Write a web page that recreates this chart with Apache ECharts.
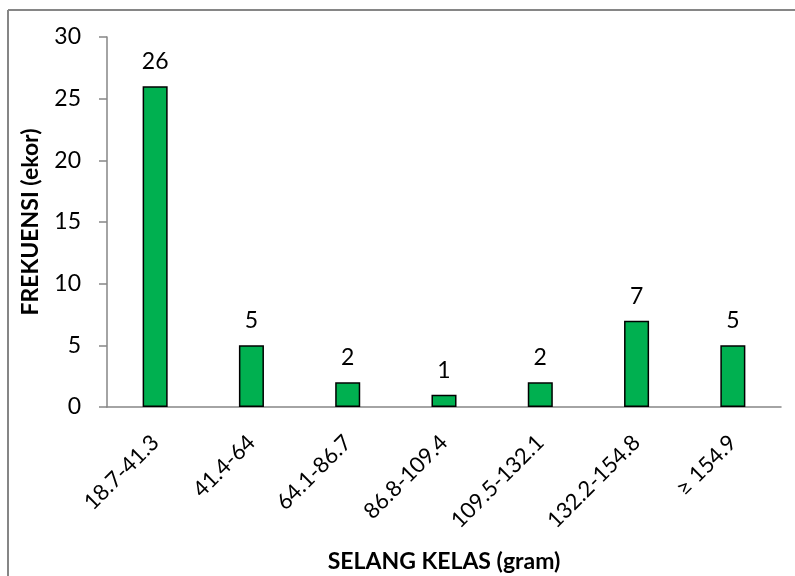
<!DOCTYPE html>
<html>
<head>
<meta charset="utf-8">
<script src="https://cdn.jsdelivr.net/npm/echarts@6/dist/echarts.min.js"></script>
<style>
html,body{margin:0;padding:0;background:#fff;}
#chart{width:795px;height:576px;}
</style>
</head>
<body>
<div id="chart"></div>
<script>
const categories = ["18.7-41.3", "41.4-64", "64.1-86.7", "86.8-109.4", "109.5-132.1", "132.2-154.8", "≥ 154.9"];
const frequencies = [26, 5, 2, 1, 2, 7, 5];
const yTicks = [0, 5, 10, 15, 20, 25, 30];
const xTitle = "SELANG KELAS (gram)";
const yTitle = "FREKUENSI (ekor)";

const FONT = "Lato";
const chart = echarts.init(document.getElementById('chart'), null, {renderer: 'canvas'});
chart.setOption({
  animation: false,
  backgroundColor: '#ffffff',
  textStyle: {fontFamily: FONT},
  graphic: [
    {type: 'line', shape: {x1: 8, y1: 10, x2: 795, y2: 10}, style: {stroke: '#868686', lineWidth: 2}},
    {type: 'line', shape: {x1: 8, y1: 10, x2: 8, y2: 576}, style: {stroke: '#868686', lineWidth: 2}}
  ],
  grid: {left: 107, right: 14, top: 37, bottom: 169, containLabel: false, outerBoundsMode: 'none'},
  xAxis: {
    type: 'category',
    data: categories,
    name: xTitle,
    nameLocation: 'middle',
    nameGap: 143,
    nameTextStyle: {fontFamily: FONT, fontSize: 23, fontWeight: 'bold', color: '#000'},
    axisLine: {lineStyle: {color: '#868686', width: 1.5}},
    axisTick: {show: false},
    axisLabel: {rotate: 45, fontFamily: FONT, fontSize: 22, color: '#000', margin: 32, interval: 0}
  },
  yAxis: {
    type: 'value',
    min: yTicks[0],
    max: yTicks[yTicks.length - 1],
    interval: yTicks[1] - yTicks[0],
    name: yTitle,
    nameLocation: 'middle',
    nameGap: 65,
    nameTextStyle: {fontFamily: FONT, fontSize: 23, fontWeight: 'bold', color: '#000'},
    axisLine: {show: true, lineStyle: {color: '#868686', width: 1.5}},
    axisTick: {show: true, length: 8, lineStyle: {color: '#868686', width: 1.5}},
    splitLine: {show: false},
    axisLabel: {fontFamily: FONT, fontSize: 23, color: '#000', margin: 26}
  },
  series: [{
    type: 'bar',
    data: frequencies,
    barWidth: '26%',
    itemStyle: {color: '#00B050', borderColor: '#000', borderWidth: 1.5},
    label: {show: true, position: 'top', distance: 13, fontFamily: FONT, fontSize: 23, color: '#000'}
  }]
});
</script>
</body>
</html>
